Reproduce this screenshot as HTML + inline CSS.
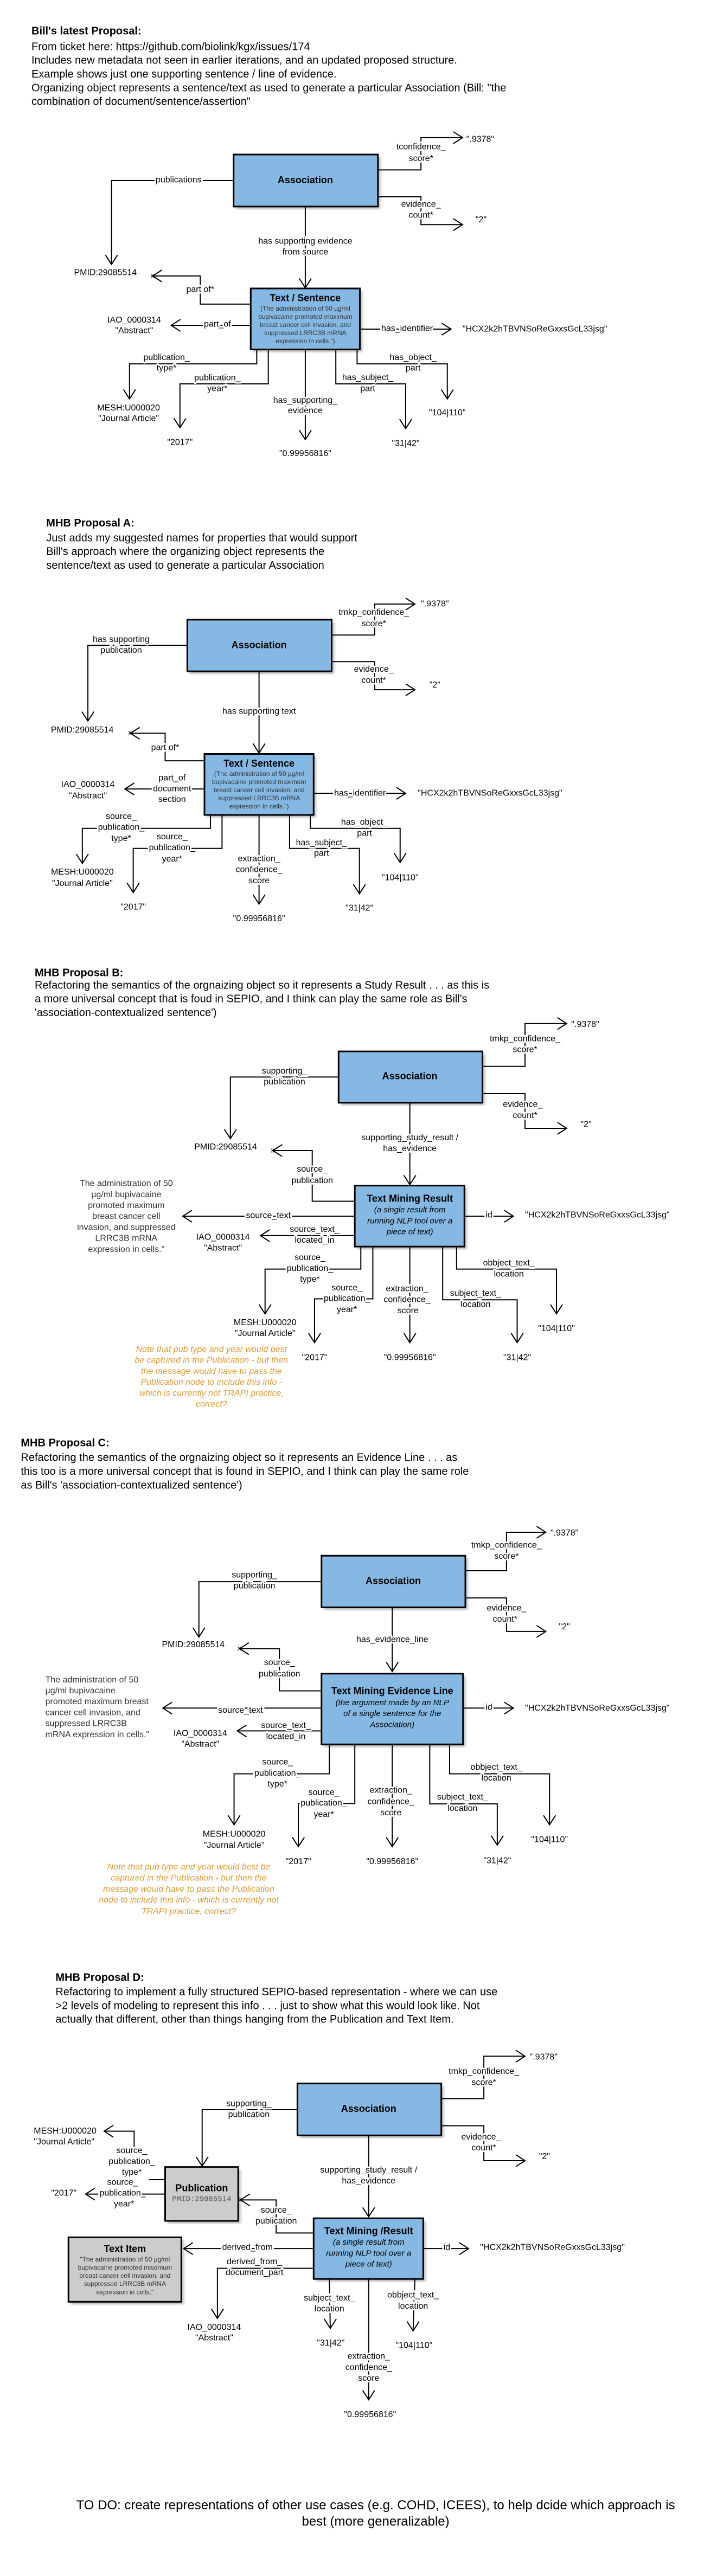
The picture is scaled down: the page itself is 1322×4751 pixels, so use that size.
<!DOCTYPE html>
<html><head><meta charset="utf-8"><style>
html,body{margin:0;padding:0;background:#fff}
svg{display:block}
text{font-family:"Liberation Sans",Arial,sans-serif;dominant-baseline:central;fill:#000}
.l{font-size:16px;text-anchor:middle;stroke:#fff;stroke-width:6px;paint-order:stroke;stroke-linejoin:round}
.v{font-size:16px;text-anchor:middle}
.vs{font-size:16px;text-anchor:start}
.t{font-size:20px;font-weight:bold;text-anchor:start}
.p{font-size:20px;text-anchor:start}
.bt{font-size:18px;font-weight:bold;text-anchor:middle}
.sm{font-size:12px;text-anchor:middle;fill:#333}
.it{font-size:15px;font-style:italic;text-anchor:middle}
.sn{font-size:16px;text-anchor:middle;fill:#333}
.sns{font-size:16px;text-anchor:start;fill:#333}
.nt{font-size:16px;font-style:italic;text-anchor:middle;fill:#e19d37}
.x{font-size:13px;text-anchor:middle}
.mono{font-family:"Liberation Mono",monospace;font-size:14px;text-anchor:middle;fill:#555}
.ln{fill:none;stroke:#000;stroke-width:2;vector-effect:non-scaling-stroke}
.bx{fill:#85b9e3;stroke:#000;stroke-width:3;vector-effect:non-scaling-stroke}
.gx{fill:#cccccc;stroke:#000;stroke-width:3;vector-effect:non-scaling-stroke}
.sh{fill:#000;opacity:.28;filter:url(#bl)}
</style></head><body>
<svg width="1322" height="4751" viewBox="0 0 1322 4751" xmlns="http://www.w3.org/2000/svg">
<defs><filter id="bl" x="-20%" y="-20%" width="140%" height="140%"><feGaussianBlur stdDeviation="3"/></filter></defs>
<rect width="1322" height="4751" fill="#fff"/>

<!-- SECTION 1 -->
<g transform="matrix(0.85289 0 0 0.57703 0 0)">
<text class="t" transform="translate(68 100)scale(1.1725 1.733)">Bill's latest Proposal:</text>
<text class="p" transform="translate(68 150)scale(1.1725 1.733)">From ticket here: https://github.com/biolink/kgx/issues/174</text>
<text class="p" transform="translate(68 193)scale(1.1725 1.733)">Includes new metadata not seen in earlier iterations, and an updated proposed structure.</text>
<text class="p" transform="translate(68 237)scale(1.1725 1.733)">Example shows just one supporting sentence / line of evidence.</text>
<text class="p" transform="translate(68 282)scale(1.1725 1.733)">Organizing object represents a sentence/text as used to generate a particular Association (Bill: "the</text>
<text class="p" transform="translate(68 325)scale(1.1725 1.733)">combination of document/sentence/assertion"</text>

<rect class="sh" x="510" y="502" width="312" height="166"/>
<rect class="sh" x="547" y="930" width="236" height="195"/>
<polyline class="ln" points="505,577 241,577 241,845"/><polyline class="ln" points="228,815 241,845 254,815"/>
<polyline class="ln" points="817,543 910,543 910,440 1000,440"/><polyline class="ln" points="980,421 1000,440 980,459"/>
<polyline class="ln" points="817,629 910,629 910,718 1000,718"/><polyline class="ln" points="980,699 1000,718 980,737"/>
<polyline class="ln" points="660,660 660,920"/><polyline class="ln" points="647,890 660,920 673,890"/>
<polyline class="ln" points="542,972 433,972 433,882 330,882"/><polyline class="ln" points="350,863 330,882 350,901"/>
<polyline class="ln" points="542,1040 370,1040"/><polyline class="ln" points="390,1021 370,1040 390,1059"/>
<polyline class="ln" points="778,1052 975,1052"/><polyline class="ln" points="955,1033 975,1052 955,1071"/>
<polyline class="ln" points="555,1117 555,1163 280,1163 280,1275"/><polyline class="ln" points="267,1245 280,1275 293,1245"/>
<polyline class="ln" points="580,1117 580,1227 389,1227 389,1367"/><polyline class="ln" points="376,1337 389,1367 402,1337"/>
<polyline class="ln" points="660,1117 660,1405"/><polyline class="ln" points="647,1375 660,1405 673,1375"/>
<polyline class="ln" points="726,1117 726,1227 877,1227 877,1370"/><polyline class="ln" points="864,1340 877,1370 890,1340"/>
<polyline class="ln" points="772,1117 772,1163 967,1163 967,1275"/><polyline class="ln" points="954,1245 967,1275 980,1245"/>
<rect class="bx" x="505" y="494" width="312" height="166"/>
<rect class="bx" x="542" y="922" width="236" height="195"/>
<text class="bt" transform="translate(660 575)scale(1.1725 1.733)">Association</text>
<text class="bt" transform="translate(660 952)scale(1.1725 1.733)">Text / Sentence</text>
<text class="sm" transform="translate(660 986)scale(1.1725 1.733)">(The administration of 50 µg/ml</text>
<text class="sm" transform="translate(660 1012)scale(1.1725 1.733)">bupivacaine promoted maximum</text>
<text class="sm" transform="translate(660 1038)scale(1.1725 1.733)">breast cancer cell invasion, and</text>
<text class="sm" transform="translate(660 1064)scale(1.1725 1.733)">suppressed LRRC3B mRNA</text>
<text class="sm" transform="translate(660 1090)scale(1.1725 1.733)">expression in cells.")</text>
<text class="l" transform="translate(386 575)scale(1.1725 1.733)">publications</text>
<text class="l" transform="translate(910 470)scale(1.1725 1.733)">tconfidence_</text>
<text class="l" transform="translate(910 507)scale(1.1725 1.733)">score*</text>
<text class="vs" transform="translate(1008 445)scale(1.1725 1.733)">".9378"</text>
<text class="l" transform="translate(910 653)scale(1.1725 1.733)">evidence_</text>
<text class="l" transform="translate(910 688)scale(1.1725 1.733)">count*</text>
<text class="v" transform="translate(1040 703)scale(1.1725 1.733)">"2"</text>
<text class="l" transform="translate(660 771)scale(1.1725 1.733)">has supporting evidence</text>
<text class="l" transform="translate(660 806)scale(1.1725 1.733)">from source</text>
<text class="vs" transform="translate(160 872)scale(1.1725 1.733)">PMID:29085514</text>
<text class="x" transform="translate(329 880)scale(1.1725 1.733)">x</text>
<text class="l" transform="translate(433 925)scale(1.1725 1.733)">part of*</text>
<text class="l" transform="translate(470 1036)scale(1.1725 1.733)">part_of</text>
<text class="v" transform="translate(290 1023)scale(1.1725 1.733)">IAO_0000314</text>
<text class="v" transform="translate(290 1057)scale(1.1725 1.733)">"Abstract"</text>
<text class="l" transform="translate(880 1050)scale(1.1725 1.733)">has_identifier</text>
<text class="vs" transform="translate(1000 1052)scale(1.1725 1.733)">"HCX2k2hTBVNSoReGxxsGcL33jsg"</text>
<text class="l" transform="translate(360 1143)scale(1.1725 1.733)">publication_</text>
<text class="l" transform="translate(360 1177)scale(1.1725 1.733)">type*</text>
<text class="v" transform="translate(278 1304)scale(1.1725 1.733)">MESH:U000020</text>
<text class="v" transform="translate(278 1338)scale(1.1725 1.733)">"Journal Article"</text>
<text class="l" transform="translate(470 1208)scale(1.1725 1.733)">publication_</text>
<text class="l" transform="translate(470 1243)scale(1.1725 1.733)">year*</text>
<text class="v" transform="translate(389 1414)scale(1.1725 1.733)">"2017"</text>
<text class="l" transform="translate(660 1280)scale(1.1725 1.733)">has_supporting_</text>
<text class="l" transform="translate(660 1313)scale(1.1725 1.733)">evidence</text>
<text class="v" transform="translate(660 1450)scale(1.1725 1.733)">"0.99956816"</text>
<text class="l" transform="translate(795 1207)scale(1.1725 1.733)">has_subject_</text>
<text class="l" transform="translate(795 1243)scale(1.1725 1.733)">part</text>
<text class="v" transform="translate(877 1418)scale(1.1725 1.733)">"31|42"</text>
<text class="l" transform="translate(893 1143)scale(1.1725 1.733)">has_object_</text>
<text class="l" transform="translate(893 1177)scale(1.1725 1.733)">part</text>
<text class="v" transform="translate(967 1320)scale(1.1725 1.733)">"104|110"</text>
</g>

<!-- SECTION 2 -->
<g transform="matrix(0.85289 0 0 0.57703 0 900)">
<text class="t" transform="translate(100 113)scale(1.1725 1.733)">MHB Proposal A:</text>
<text class="p" transform="translate(100 160)scale(1.1725 1.733)">Just adds my suggested names for properties that would support</text>
<text class="p" transform="translate(100 204)scale(1.1725 1.733)">Bill's approach where the organizing object represents the</text>
<text class="p" transform="translate(100 248)scale(1.1725 1.733)">sentence/text as used to generate a particular Association</text>

<rect class="sh" x="410" y="429" width="312" height="165"/>
<rect class="sh" x="447" y="858" width="236" height="195"/>
<polyline class="ln" points="405,503 190,503 190,745"/><polyline class="ln" points="177,715 190,745 203,715"/>
<polyline class="ln" points="717,470 810,470 810,371 897,371"/><polyline class="ln" points="877,352 897,371 877,390"/>
<polyline class="ln" points="717,555 810,555 810,645 897,645"/><polyline class="ln" points="877,626 897,645 877,664"/>
<polyline class="ln" points="560,586 560,847"/><polyline class="ln" points="547,817 560,847 573,817"/>
<polyline class="ln" points="442,872 357,872 357,784 282,784"/><polyline class="ln" points="302,765 282,784 302,803"/>
<polyline class="ln" points="442,962 270,962"/><polyline class="ln" points="290,943 270,962 290,981"/>
<polyline class="ln" points="678,976 877,976"/><polyline class="ln" points="857,957 877,976 857,995"/>
<polyline class="ln" points="455,1045 455,1088 178,1088 178,1200"/><polyline class="ln" points="165,1170 178,1200 191,1170"/>
<polyline class="ln" points="480,1045 480,1152 288,1152 288,1293"/><polyline class="ln" points="275,1263 288,1293 301,1263"/>
<polyline class="ln" points="560,1045 560,1330"/><polyline class="ln" points="547,1300 560,1330 573,1300"/>
<polyline class="ln" points="626,1045 626,1152 777,1152 777,1297"/><polyline class="ln" points="764,1267 777,1297 790,1267"/>
<polyline class="ln" points="671,1045 671,1088 865,1088 865,1197"/><polyline class="ln" points="852,1167 865,1197 878,1167"/>
<rect class="bx" x="405" y="421" width="312" height="165"/>
<rect class="bx" x="442" y="850" width="236" height="195"/>
<text class="bt" transform="translate(560 502)scale(1.1725 1.733)">Association</text>
<text class="bt" transform="translate(560 880)scale(1.1725 1.733)">Text / Sentence</text>
<text class="sm" transform="translate(560 913)scale(1.1725 1.733)">(The administration of 50 µg/ml</text>
<text class="sm" transform="translate(560 939)scale(1.1725 1.733)">bupivacaine promoted maximum</text>
<text class="sm" transform="translate(560 965)scale(1.1725 1.733)">breast cancer cell invasion, and</text>
<text class="sm" transform="translate(560 991)scale(1.1725 1.733)">suppressed LRRC3B mRNA</text>
<text class="sm" transform="translate(560 1017)scale(1.1725 1.733)">expression in cells.")</text>
<text class="l" transform="translate(262 484)scale(1.1725 1.733)">has supporting</text>
<text class="l" transform="translate(262 519)scale(1.1725 1.733)">publication</text>
<text class="vs" transform="translate(110 774)scale(1.1725 1.733)">PMID:29085514</text>
<text class="x" transform="translate(281 782)scale(1.1725 1.733)">x</text>
<text class="l" transform="translate(808 398)scale(1.1725 1.733)">tmkp_confidence_</text>
<text class="l" transform="translate(808 434)scale(1.1725 1.733)">score*</text>
<text class="vs" transform="translate(910 371)scale(1.1725 1.733)">".9378"</text>
<text class="l" transform="translate(808 580)scale(1.1725 1.733)">evidence_</text>
<text class="l" transform="translate(808 615)scale(1.1725 1.733)">count*</text>
<text class="v" transform="translate(940 630)scale(1.1725 1.733)">"2"</text>
<text class="l" transform="translate(560 714)scale(1.1725 1.733)">has supporting text</text>
<text class="l" transform="translate(357 830)scale(1.1725 1.733)">part of*</text>
<text class="l" transform="translate(372 927)scale(1.1725 1.733)">part_of</text>
<text class="l" transform="translate(372 962)scale(1.1725 1.733)">document</text>
<text class="l" transform="translate(372 996)scale(1.1725 1.733)">section</text>
<text class="v" transform="translate(190 948)scale(1.1725 1.733)">IAO_0000314</text>
<text class="v" transform="translate(190 984)scale(1.1725 1.733)">"Abstract"</text>
<text class="l" transform="translate(778 976)scale(1.1725 1.733)">has_identifier</text>
<text class="vs" transform="translate(903 976)scale(1.1725 1.733)">"HCX2k2hTBVNSoReGxxsGcL33jsg"</text>
<text class="l" transform="translate(262 1050)scale(1.1725 1.733)">source_</text>
<text class="l" transform="translate(262 1085)scale(1.1725 1.733)">publication_</text>
<text class="l" transform="translate(262 1120)scale(1.1725 1.733)">type*</text>
<text class="v" transform="translate(178 1228)scale(1.1725 1.733)">MESH:U000020</text>
<text class="v" transform="translate(178 1264)scale(1.1725 1.733)">"Journal Article"</text>
<text class="l" transform="translate(372 1115)scale(1.1725 1.733)">source_</text>
<text class="l" transform="translate(372 1150)scale(1.1725 1.733)">publication_</text>
<text class="l" transform="translate(372 1186)scale(1.1725 1.733)">year*</text>
<text class="v" transform="translate(288 1340)scale(1.1725 1.733)">"2017"</text>
<text class="l" transform="translate(560 1185)scale(1.1725 1.733)">extraction_</text>
<text class="l" transform="translate(560 1220)scale(1.1725 1.733)">confidence_</text>
<text class="l" transform="translate(560 1256)scale(1.1725 1.733)">score</text>
<text class="v" transform="translate(560 1377)scale(1.1725 1.733)">"0.99956816"</text>
<text class="l" transform="translate(695 1134)scale(1.1725 1.733)">has_subject_</text>
<text class="l" transform="translate(695 1168)scale(1.1725 1.733)">part</text>
<text class="v" transform="translate(777 1343)scale(1.1725 1.733)">"31|42"</text>
<text class="l" transform="translate(788 1068)scale(1.1725 1.733)">has_object_</text>
<text class="l" transform="translate(788 1104)scale(1.1725 1.733)">part</text>
<text class="v" transform="translate(865 1246)scale(1.1725 1.733)">"104|110"</text>
<text class="t" transform="translate(75 1550)scale(1.1725 1.733)">MHB Proposal B:</text>
</g>

<!-- SECTION 3 -->
<g transform="matrix(0.85289 0 0 0.57703 0 1800)">
<text class="p" transform="translate(75 30)scale(1.1725 1.733)">Refactoring the semantics of the orgnaizing object so it represents a Study Result . . . as this is</text>
<text class="p" transform="translate(75 74)scale(1.1725 1.733)">a more universal concept that is foud in SEPIO, and I think can play the same role as Bill's</text>
<text class="p" transform="translate(75 118)scale(1.1725 1.733)">'association-contextualized sentence')</text>

<rect class="sh" x="737" y="249" width="311" height="164"/>
<rect class="sh" x="772" y="678" width="237" height="195"/>
<polyline class="ln" points="732,323 498,323 498,520"/><polyline class="ln" points="485,490 498,520 511,490"/>
<polyline class="ln" points="1043,289 1135,289 1135,152 1225,152"/><polyline class="ln" points="1205,133 1225,152 1205,171"/>
<polyline class="ln" points="1043,376 1135,376 1135,487 1225,487"/><polyline class="ln" points="1205,468 1225,487 1205,506"/>
<polyline class="ln" points="886,405 886,667"/><polyline class="ln" points="873,637 886,667 899,637"/>
<polyline class="ln" points="767,720 675,720 675,558 590,558"/><polyline class="ln" points="610,539 590,558 610,577"/>
<polyline class="ln" points="767,768 395,768"/><polyline class="ln" points="415,749 395,768 415,787"/>
<polyline class="ln" points="767,830 563,830"/><polyline class="ln" points="583,811 563,830 583,849"/>
<polyline class="ln" points="1004,768 1110,768"/><polyline class="ln" points="1090,749 1110,768 1090,787"/>
<polyline class="ln" points="780,865 780,937 573,937 573,1080"/><polyline class="ln" points="560,1050 573,1080 586,1050"/>
<polyline class="ln" points="806,865 806,1032 680,1032 680,1172"/><polyline class="ln" points="667,1142 680,1172 693,1142"/>
<polyline class="ln" points="886,865 886,1172"/><polyline class="ln" points="873,1142 886,1172 899,1142"/>
<polyline class="ln" points="957,865 957,1035 1118,1035 1118,1172"/><polyline class="ln" points="1105,1142 1118,1172 1131,1142"/>
<polyline class="ln" points="987,865 987,937 1203,937 1203,1080"/><polyline class="ln" points="1190,1050 1203,1080 1216,1050"/>
<rect class="bx" x="732" y="241" width="311" height="164"/>
<rect class="bx" x="767" y="670" width="237" height="195"/>
<text class="bt" transform="translate(886 320)scale(1.1725 1.733)">Association</text>
<text class="bt" transform="translate(886 711)scale(1.1725 1.733)">Text Mining Result</text>
<text class="it" transform="translate(886 748)scale(1.1725 1.733)">(a single result from</text>
<text class="it" transform="translate(886 783)scale(1.1725 1.733)">running NLP tool over a</text>
<text class="it" transform="translate(886 818)scale(1.1725 1.733)">piece of text)</text>
<text class="l" transform="translate(615 304)scale(1.1725 1.733)">supporting_</text>
<text class="l" transform="translate(615 339)scale(1.1725 1.733)">publication</text>
<text class="vs" transform="translate(420 547)scale(1.1725 1.733)">PMID:29085514</text>
<text class="x" transform="translate(589 556)scale(1.1725 1.733)">x</text>
<text class="l" transform="translate(1135 201)scale(1.1725 1.733)">tmkp_confidence_</text>
<text class="l" transform="translate(1135 236)scale(1.1725 1.733)">score*</text>
<text class="vs" transform="translate(1235 155)scale(1.1725 1.733)">".9378"</text>
<text class="l" transform="translate(1130 411)scale(1.1725 1.733)">evidence_</text>
<text class="l" transform="translate(1135 446)scale(1.1725 1.733)">count*</text>
<text class="v" transform="translate(1267 475)scale(1.1725 1.733)">"2"</text>
<text class="l" transform="translate(886 517)scale(1.1725 1.733)">supporting_study_result /</text>
<text class="l" transform="translate(886 552)scale(1.1725 1.733)">has_evidence</text>
<text class="l" transform="translate(675 618)scale(1.1725 1.733)">source_</text>
<text class="l" transform="translate(675 654)scale(1.1725 1.733)">publication</text>
<text class="l" transform="translate(580 766)scale(1.1725 1.733)">source_text</text>
<text class="sn" transform="translate(273 664)scale(1.1725 1.733)">The administration of 50</text>
<text class="sn" transform="translate(273 699)scale(1.1725 1.733)">µg/ml bupivacaine</text>
<text class="sn" transform="translate(273 734)scale(1.1725 1.733)">promoted maximum</text>
<text class="sn" transform="translate(273 769)scale(1.1725 1.733)">breast cancer cell</text>
<text class="sn" transform="translate(273 804)scale(1.1725 1.733)">invasion, and suppressed</text>
<text class="sn" transform="translate(273 839)scale(1.1725 1.733)">LRRC3B mRNA</text>
<text class="sn" transform="translate(273 874)scale(1.1725 1.733)">expression in cells."</text>
<text class="l" transform="translate(680 810)scale(1.1725 1.733)">source_text_</text>
<text class="l" transform="translate(680 845)scale(1.1725 1.733)">located_in</text>
<text class="v" transform="translate(482 835)scale(1.1725 1.733)">IAO_0000314</text>
<text class="v" transform="translate(482 870)scale(1.1725 1.733)">"Abstract"</text>
<text class="l" transform="translate(1057 764)scale(1.1725 1.733)">id</text>
<text class="vs" transform="translate(1135 764)scale(1.1725 1.733)">"HCX2k2hTBVNSoReGxxsGcL33jsg"</text>
<text class="l" transform="translate(670 900)scale(1.1725 1.733)">source_</text>
<text class="l" transform="translate(670 935)scale(1.1725 1.733)">publication_</text>
<text class="l" transform="translate(670 970)scale(1.1725 1.733)">type*</text>
<text class="v" transform="translate(573 1108)scale(1.1725 1.733)">MESH:U000020</text>
<text class="v" transform="translate(573 1143)scale(1.1725 1.733)">"Journal Article"</text>
<text class="l" transform="translate(750 997)scale(1.1725 1.733)">source_</text>
<text class="l" transform="translate(750 1031)scale(1.1725 1.733)">publication_</text>
<text class="l" transform="translate(750 1067)scale(1.1725 1.733)">year*</text>
<text class="v" transform="translate(680 1220)scale(1.1725 1.733)">"2017"</text>
<text class="l" transform="translate(880 1000)scale(1.1725 1.733)">extraction_</text>
<text class="l" transform="translate(880 1035)scale(1.1725 1.733)">confidence_</text>
<text class="l" transform="translate(882 1070)scale(1.1725 1.733)">score</text>
<text class="v" transform="translate(886 1220)scale(1.1725 1.733)">"0.99956816"</text>
<text class="l" transform="translate(1028 1015)scale(1.1725 1.733)">subject_text_</text>
<text class="l" transform="translate(1028 1050)scale(1.1725 1.733)">location</text>
<text class="v" transform="translate(1118 1220)scale(1.1725 1.733)">"31|42"</text>
<text class="l" transform="translate(1100 918)scale(1.1725 1.733)">obbject_text_</text>
<text class="l" transform="translate(1100 953)scale(1.1725 1.733)">location</text>
<text class="v" transform="translate(1203 1127)scale(1.1725 1.733)">"104|110"</text>
<text class="nt" transform="translate(457 1194)scale(1.1725 1.733)">Note that pub type and year would best</text>
<text class="nt" transform="translate(457 1229)scale(1.1725 1.733)">be captured in the Publication - but then</text>
<text class="nt" transform="translate(457 1264)scale(1.1725 1.733)">the message would have to pass the</text>
<text class="nt" transform="translate(457 1299)scale(1.1725 1.733)">Publication node to include this info -</text>
<text class="nt" transform="translate(457 1334)scale(1.1725 1.733)">which is currently not TRAPI practice,</text>
<text class="nt" transform="translate(457 1369)scale(1.1725 1.733)">correct?</text>
</g>

<!-- SECTION 4 -->
<g transform="matrix(0.85289 0 0 0.57703 0 2650)">
<text class="t" transform="translate(45 20)scale(1.1725 1.733)">MHB Proposal C:</text>
<text class="p" transform="translate(45 67)scale(1.1725 1.733)">Refactoring the semantics of the orgnaizing object so it represents an Evidence Line . . . as</text>
<text class="p" transform="translate(45 111)scale(1.1725 1.733)">this too is a more universal concept that is found in SEPIO, and I think can play the same role</text>
<text class="p" transform="translate(45 155)scale(1.1725 1.733)">as Bill's 'association-contextualized sentence')</text>

<rect class="sh" x="700" y="388" width="311" height="165"/>
<rect class="sh" x="700" y="765" width="306" height="226"/>
<polyline class="ln" points="695,463 430,463 430,640"/><polyline class="ln" points="417,610 430,640 443,610"/>
<polyline class="ln" points="1006,428 1095,428 1095,305 1180,305"/><polyline class="ln" points="1160,286 1180,305 1160,324"/>
<polyline class="ln" points="1006,515 1095,515 1095,622 1180,622"/><polyline class="ln" points="1160,603 1180,622 1160,641"/>
<polyline class="ln" points="848,545 848,750"/><polyline class="ln" points="835,720 848,750 861,720"/>
<polyline class="ln" points="695,812 604,812 604,677 518,677"/><polyline class="ln" points="538,658 518,677 538,696"/>
<polyline class="ln" points="695,867 352,867"/><polyline class="ln" points="372,848 352,867 372,886"/>
<polyline class="ln" points="695,940 513,940"/><polyline class="ln" points="533,921 513,940 533,959"/>
<polyline class="ln" points="1001,867 1110,867"/><polyline class="ln" points="1090,848 1110,867 1090,886"/>
<polyline class="ln" points="712,983 712,1077 506,1077 506,1240"/><polyline class="ln" points="493,1210 506,1240 519,1210"/>
<polyline class="ln" points="767,983 767,1172 645,1172 645,1310"/><polyline class="ln" points="632,1280 645,1310 658,1280"/>
<polyline class="ln" points="848,983 848,1310"/><polyline class="ln" points="835,1280 848,1310 861,1280"/>
<polyline class="ln" points="929,983 929,1173 1075,1173 1075,1305"/><polyline class="ln" points="1062,1275 1075,1305 1088,1275"/>
<polyline class="ln" points="972,983 972,1077 1188,1077 1188,1240"/><polyline class="ln" points="1175,1210 1188,1240 1201,1210"/>
<rect class="bx" x="695" y="380" width="311" height="165"/>
<rect class="bx" x="695" y="757" width="306" height="226"/>
<text class="bt" transform="translate(850 460)scale(1.1725 1.733)">Association</text>
<text class="bt" transform="translate(848 812)scale(1.1725 1.733)">Text Mining Evidence Line</text>
<text class="it" transform="translate(848 850)scale(1.1725 1.733)">(the argument made by an NLP</text>
<text class="it" transform="translate(848 885)scale(1.1725 1.733)">of a single sentence for the</text>
<text class="it" transform="translate(848 920)scale(1.1725 1.733)">Association)</text>
<text class="l" transform="translate(550 442)scale(1.1725 1.733)">supporting_</text>
<text class="l" transform="translate(550 477)scale(1.1725 1.733)">publication</text>
<text class="vs" transform="translate(350 665)scale(1.1725 1.733)">PMID:29085514</text>
<text class="x" transform="translate(517 675)scale(1.1725 1.733)">x</text>
<text class="l" transform="translate(1095 347)scale(1.1725 1.733)">tmkp_confidence_</text>
<text class="l" transform="translate(1095 382)scale(1.1725 1.733)">score*</text>
<text class="vs" transform="translate(1190 308)scale(1.1725 1.733)">".9378"</text>
<text class="l" transform="translate(1095 548)scale(1.1725 1.733)">evidence_</text>
<text class="l" transform="translate(1092 583)scale(1.1725 1.733)">count*</text>
<text class="v" transform="translate(1220 607)scale(1.1725 1.733)">"2"</text>
<text class="l" transform="translate(848 648)scale(1.1725 1.733)">has_evidence_line</text>
<text class="l" transform="translate(604 722)scale(1.1725 1.733)">source_</text>
<text class="l" transform="translate(604 758)scale(1.1725 1.733)">publication</text>
<text class="l" transform="translate(520 874)scale(1.1725 1.733)">source_text</text>
<text class="sns" transform="translate(98 777)scale(1.1725 1.733)">The administration of 50</text>
<text class="sns" transform="translate(98 812)scale(1.1725 1.733)">µg/ml bupivacaine</text>
<text class="sns" transform="translate(98 847)scale(1.1725 1.733)">promoted maximum breast</text>
<text class="sns" transform="translate(98 882)scale(1.1725 1.733)">cancer cell invasion, and</text>
<text class="sns" transform="translate(98 917)scale(1.1725 1.733)">suppressed LRRC3B</text>
<text class="sns" transform="translate(98 952)scale(1.1725 1.733)">mRNA expression in cells."</text>
<text class="l" transform="translate(618 923)scale(1.1725 1.733)">source_text_</text>
<text class="l" transform="translate(618 958)scale(1.1725 1.733)">located_in</text>
<text class="v" transform="translate(433 948)scale(1.1725 1.733)">IAO_0000314</text>
<text class="v" transform="translate(433 983)scale(1.1725 1.733)">"Abstract"</text>
<text class="l" transform="translate(1057 865)scale(1.1725 1.733)">id</text>
<text class="vs" transform="translate(1135 867)scale(1.1725 1.733)">"HCX2k2hTBVNSoReGxxsGcL33jsg"</text>
<text class="l" transform="translate(600 1040)scale(1.1725 1.733)">source_</text>
<text class="l" transform="translate(600 1075)scale(1.1725 1.733)">publication_</text>
<text class="l" transform="translate(600 1110)scale(1.1725 1.733)">type*</text>
<text class="v" transform="translate(506 1270)scale(1.1725 1.733)">MESH:U000020</text>
<text class="v" transform="translate(506 1306)scale(1.1725 1.733)">"Journal Article"</text>
<text class="l" transform="translate(700 1137)scale(1.1725 1.733)">source_</text>
<text class="l" transform="translate(700 1171)scale(1.1725 1.733)">publication_</text>
<text class="l" transform="translate(700 1207)scale(1.1725 1.733)">year*</text>
<text class="v" transform="translate(645 1358)scale(1.1725 1.733)">"2017"</text>
<text class="l" transform="translate(845 1130)scale(1.1725 1.733)">extraction_</text>
<text class="l" transform="translate(845 1166)scale(1.1725 1.733)">confidence_</text>
<text class="l" transform="translate(845 1202)scale(1.1725 1.733)">score</text>
<text class="v" transform="translate(848 1358)scale(1.1725 1.733)">"0.99956816"</text>
<text class="l" transform="translate(1000 1152)scale(1.1725 1.733)">subject_text_</text>
<text class="l" transform="translate(1000 1188)scale(1.1725 1.733)">location</text>
<text class="v" transform="translate(1075 1355)scale(1.1725 1.733)">"31|42"</text>
<text class="l" transform="translate(1073 1056)scale(1.1725 1.733)">obbject_text_</text>
<text class="l" transform="translate(1073 1091)scale(1.1725 1.733)">location</text>
<text class="v" transform="translate(1188 1288)scale(1.1725 1.733)">"104|110"</text>
<text class="nt" transform="translate(408 1375)scale(1.1725 1.733)">Note that pub type and year would best be</text>
<text class="nt" transform="translate(408 1411)scale(1.1725 1.733)">captured in the Publication - but then the</text>
<text class="nt" transform="translate(408 1446)scale(1.1725 1.733)">message would have to pass the Publication</text>
<text class="nt" transform="translate(408 1481)scale(1.1725 1.733)">node to include this info - which is currently not</text>
<text class="nt" transform="translate(408 1517)scale(1.1725 1.733)">TRAPI practice, correct?</text>
</g>

<!-- SECTION 5 title -->
<g transform="matrix(0.85289 0 0 0.33333 0 3560)">
<text class="t" transform="translate(120 262)scale(1.1725 3)">MHB Proposal D:</text>
<text class="p" transform="translate(120 342)scale(1.1725 3)">Refactoring to implement a fully structured SEPIO-based representation  - where we can use</text>
<text class="p" transform="translate(120 418)scale(1.1725 3)">&gt;2 levels of modeling to represent this info . . . just to show what this would look like.  Not</text>
<text class="p" transform="translate(120 493)scale(1.1725 3)">actually that different, other than things hanging from the Publication and Text Item.</text>
</g>

<!-- SECTION 5 top -->
<g transform="matrix(0.85289 0 0 0.33333 0 3700)">
<rect class="sh" x="648" y="442" width="311" height="287"/>
<rect class="sh" x="362" y="904" width="158" height="298"/>
<polyline class="ln" points="954,512 1046,512 1046,277 1135,277"/><polyline class="ln" points="1115,244 1135,277 1115,310"/>
<polyline class="ln" points="954,662 1046,662 1046,855 1135,855"/><polyline class="ln" points="1115,822 1135,855 1115,888"/>
<polyline class="ln" points="643,573 437,573 437,885"/><polyline class="ln" points="424,834 437,885 450,834"/>
<polyline class="ln" points="357,960 322,960"/>
<polyline class="ln" points="290,780 290,692 225,692"/><polyline class="ln" points="245,659 225,692 245,725"/>
<polyline class="ln" points="357,1040 185,1040"/><polyline class="ln" points="205,1007 185,1040 205,1073"/>
<polyline class="ln" points="678,1255 597,1255 597,1072 520,1072"/><polyline class="ln" points="540,1039 520,1072 540,1105"/>
<polyline class="ln" points="797,715 797,1165"/><polyline class="ln" points="784,1114 797,1165 810,1114"/>
<rect class="bx" x="643" y="428" width="311" height="287"/>
<rect class="gx" x="357" y="890" width="158" height="298"/>
<text class="bt" transform="translate(797 567)scale(1.1725 3)">Association</text>
<text class="bt" transform="translate(436 1007)scale(1.1725 3)">Publication</text>
<text class="mono" transform="translate(436 1070)scale(1.1725 3)">PMID:29085514</text>
<text class="x" transform="translate(519 1068)scale(1.1725 3)">x</text>
<text class="l" transform="translate(1046 362)scale(1.1725 3)">tmkp_confidence_</text>
<text class="l" transform="translate(1046 423)scale(1.1725 3)">score*</text>
<text class="vs" transform="translate(1145 282)scale(1.1725 3)">".9378"</text>
<text class="l" transform="translate(1040 724)scale(1.1725 3)">evidence_</text>
<text class="l" transform="translate(1046 785)scale(1.1725 3)">count*</text>
<text class="v" transform="translate(1177 833)scale(1.1725 3)">"2"</text>
<text class="l" transform="translate(538 540)scale(1.1725 3)">supporting_</text>
<text class="l" transform="translate(538 600)scale(1.1725 3)">publication</text>
<text class="vs" transform="translate(73 692)scale(1.1725 3)">MESH:U000020</text>
<text class="vs" transform="translate(73 752)scale(1.1725 3)">"Journal Article"</text>
<text class="l" transform="translate(285 800)scale(1.1725 3)">source_</text>
<text class="l" transform="translate(285 860)scale(1.1725 3)">publication_</text>
<text class="l" transform="translate(285 920)scale(1.1725 3)">type*</text>
<text class="l" transform="translate(265 975)scale(1.1725 3)">source_</text>
<text class="l" transform="translate(265 1035)scale(1.1725 3)">publication_</text>
<text class="l" transform="translate(268 1095)scale(1.1725 3)">year*</text>
<text class="v" transform="translate(138 1035)scale(1.1725 3)">"2017"</text>
<text class="l" transform="translate(597 1130)scale(1.1725 3)">source_</text>
<text class="l" transform="translate(597 1190)scale(1.1725 3)">publication</text>
<text class="l" transform="translate(797 907)scale(1.1725 3)">supporting_study_result /</text>
<text class="l" transform="translate(797 967)scale(1.1725 3)">has_evidence</text>
</g>

<!-- SECTION 5 bottom -->
<g transform="matrix(0.85289 0 0 0.57703 0 3850)">
<rect class="sh" x="683" y="426" width="237" height="194"/>
<rect class="sh" x="153" y="487" width="244" height="206"/>
<polyline class="ln" points="678,515 397,515"/><polyline class="ln" points="417,496 397,515 417,534"/>
<polyline class="ln" points="678,578 470,578 470,738"/><polyline class="ln" points="457,708 470,738 483,708"/>
<polyline class="ln" points="915,515 1013,515"/><polyline class="ln" points="993,496 1013,515 993,534"/>
<polyline class="ln" points="712,612 714,770"/><polyline class="ln" points="701,740 714,770 727,740"/>
<polyline class="ln" points="897,612 893,778"/><polyline class="ln" points="880,748 893,778 906,748"/>
<polyline class="ln" points="797,612 797,998"/><polyline class="ln" points="784,968 797,998 810,968"/>
<rect class="bx" x="678" y="418" width="237" height="194"/>
<rect class="gx" x="148" y="479" width="244" height="206"/>
<text class="bt" transform="translate(797 458)scale(1.1725 1.733)">Text Mining /Result</text>
<text class="it" transform="translate(797 495)scale(1.1725 1.733)">(a single result from</text>
<text class="it" transform="translate(797 530)scale(1.1725 1.733)">running NLP tool over a</text>
<text class="it" transform="translate(797 565)scale(1.1725 1.733)">piece of text)</text>
<text class="bt" transform="translate(270 516)scale(1.1725 1.733)">Text Item</text>
<text class="sm" transform="translate(270 549)scale(1.1725 1.733)">"The administration of 50 µg/ml</text>
<text class="sm" transform="translate(270 575)scale(1.1725 1.733)">bupivacaine promoted maximum</text>
<text class="sm" transform="translate(270 601)scale(1.1725 1.733)">breast cancer cell invasion, and</text>
<text class="sm" transform="translate(270 627)scale(1.1725 1.733)">suppressed LRRC3B mRNA</text>
<text class="sm" transform="translate(270 654)scale(1.1725 1.733)">expression in cells."</text>
<text class="l" transform="translate(535 511)scale(1.1725 1.733)">derived_from</text>
<text class="l" transform="translate(550 557)scale(1.1725 1.733)">derived_from_</text>
<text class="l" transform="translate(550 592)scale(1.1725 1.733)">document_part</text>
<text class="v" transform="translate(463 767)scale(1.1725 1.733)">IAO_0000314</text>
<text class="v" transform="translate(463 801)scale(1.1725 1.733)">"Abstract"</text>
<text class="l" transform="translate(966 511)scale(1.1725 1.733)">id</text>
<text class="vs" transform="translate(1038 511)scale(1.1725 1.733)">"HCX2k2hTBVNSoReGxxsGcL33jsg"</text>
<text class="l" transform="translate(712 673)scale(1.1725 1.733)">subject_text_</text>
<text class="l" transform="translate(712 708)scale(1.1725 1.733)">location</text>
<text class="v" transform="translate(715 817)scale(1.1725 1.733)">"31|42"</text>
<text class="l" transform="translate(893 664)scale(1.1725 1.733)">obbject_text_</text>
<text class="l" transform="translate(893 699)scale(1.1725 1.733)">location</text>
<text class="v" transform="translate(895 825)scale(1.1725 1.733)">"104|110"</text>
<text class="l" transform="translate(797 860)scale(1.1725 1.733)">extraction_</text>
<text class="l" transform="translate(797 895)scale(1.1725 1.733)">confidence_</text>
<text class="l" transform="translate(797 930)scale(1.1725 1.733)">score</text>
<text class="v" transform="translate(800 1046)scale(1.1725 1.733)">"0.99956816"</text>
<text class="v" style="font-size:24px" transform="translate(812 1335)scale(1.1725 1.733)">TO DO: create representations of other use cases (e.g. COHD, ICEES), to help dcide which approach is</text>
<text class="v" style="font-size:24px" transform="translate(812 1387)scale(1.1725 1.733)">best (more generalizable)</text>
</g>
</svg>
</body></html>
